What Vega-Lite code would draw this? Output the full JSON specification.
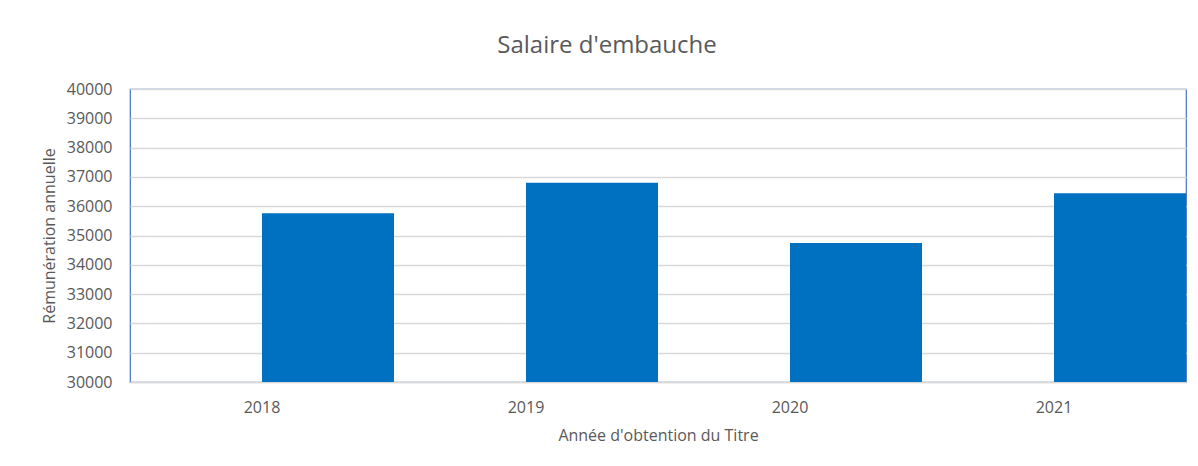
{
  "$schema": "https://vega.github.io/schema/vega-lite/v6.json",
  "autosize": "none",
  "padding": {"left": 130, "top": 89, "right": 12, "bottom": 84},
  "width": 1056,
  "height": 293,
  "background": "white",
  "title": {
    "text": "Salaire d'embauche",
    "font": "Open Sans",
    "fontSize": 24,
    "fontWeight": "normal",
    "color": "#595959",
    "anchor": "middle",
    "dx": -51,
    "offset": 23
  },
  "data": {
    "values": [
      {"annee": "2018", "serie": "b", "valeur": 35760},
      {"annee": "2019", "serie": "b", "valeur": 36800},
      {"annee": "2020", "serie": "b", "valeur": 34745},
      {"annee": "2021", "serie": "b", "valeur": 36445}
    ]
  },
  "mark": {"type": "bar", "color": "#0070C0"},
  "encoding": {
    "x": {
      "field": "annee",
      "type": "ordinal",
      "scale": {"paddingInner": 0, "paddingOuter": 0},
      "axis": {
        "title": "Année d'obtention du Titre",
        "labelAngle": 0,
        "ticks": false,
        "domainColor": "#D9D9D9",
        "domainWidth": 1.5,
        "labelPadding": 17,
        "titlePadding": 12
      }
    },
    "xOffset": {
      "field": "serie",
      "type": "nominal",
      "scale": {"domain": ["a", "b"], "paddingInner": 0, "paddingOuter": 0}
    },
    "y": {
      "field": "valeur",
      "type": "quantitative",
      "scale": {"domain": [30000, 40000], "nice": false, "zero": false},
      "axis": {
        "title": "Rémunération  annuelle",
        "values": [30000, 31000, 32000, 33000, 34000, 35000, 36000, 37000, 38000, 39000, 40000],
        "format": "d",
        "labelOverlap": false,
        "labelBound": false,
        "domain": false,
        "ticks": false,
        "gridColor": "#D9D9D9",
        "gridWidth": 1.5,
        "labelPadding": 18,
        "titlePadding": 9
      }
    },
    "y2": {"datum": 30000}
  },
  "config": {
    "view": {"stroke": "#4472C4", "strokeWidth": 1.2},
    "axis": {
      "labelFont": "Open Sans",
      "labelFontSize": 16,
      "labelColor": "#595959",
      "titleFont": "Open Sans",
      "titleFontSize": 16,
      "titleFontWeight": "normal",
      "titleColor": "#595959"
    }
  }
}
